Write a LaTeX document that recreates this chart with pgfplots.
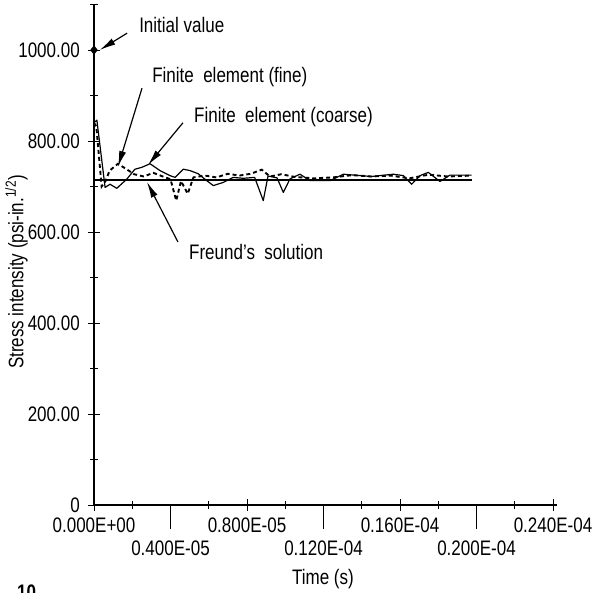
\documentclass[border=0pt]{standalone}
\usepackage{pgfplots}
\pgfplotsset{compat=1.18}
\usepackage{fontspec}
\setmainfont{Liberation Sans}[FakeStretch=0.81]
\usetikzlibrary{arrows.meta}
\begin{document}
\fontsize{21bp}{25bp}\selectfont
\begin{tikzpicture}
\path[use as bounding box] (-94bp,-88bp) rectangle (499bp,505bp);
\begin{axis}[
 anchor=origin, at={(0,0)},
 x=19.125bp, y=0.455bp,
 xmin=0, xmax=24.2, ymin=0, ymax=1100,
 clip=false,
 axis x line*=bottom, axis y line*=left,
 axis line style={line width=1.2pt,-},
 xtick={0,8,16,24},
 xticklabels={0.000E+00,0.800E-05,0.160E-04,0.240E-04},
 extra x ticks={4,12,20},
 extra x tick labels={0.400E-05,0.120E-04,0.200E-04},
 extra x tick style={tick align=outside, major tick length=24bp, xticklabel style={yshift=-5bp}},
 minor xtick={2,6,10,14,18,22},
 ytick={0,200,...,1000},
 yticklabels={0,200.00,400.00,600.00,800.00,1000.00},
 minor ytick={100,300,500,700,900,1100},
 tick align=center, major tick length=12bp, minor tick length=8bp,
 tick style={line width=1pt,black},
 tick label style={font=\fontsize{21bp}{25bp}\selectfont},
 yticklabel style={xshift=-1bp},
]
% Freund's solution
\addplot[black, line width=2pt] coordinates {(0,715) (19.75,715)};
% Finite element (coarse)
\addplot[black, line width=1.2pt, line join=round] coordinates {
(0,840) (0.15,846) (0.58,698) (0.84,705) (1.19,696) (1.71,716) (2.14,738)
(2.49,742) (2.93,750) (3.45,735) (3.97,724) (4.24,720) (4.67,738) (5.02,735)
(5.45,728) (5.89,713) (6.24,702) (6.76,709) (7.28,720) (7.8,718) (8.4,720)
(8.85,669) (9.1,723) (9.57,719) (9.9,687) (10.25,717) (10.77,727) (11.29,713)
(12.34,713) (13.04,727) (14.5,722) (15.65,727) (16.17,724) (16.61,705)
(17.05,724) (17.48,731) (18.09,711) (18.61,725) (19.75,725)};
% Finite element (fine)
\addplot[black, line width=1.9pt, dash pattern=on 4pt off 3pt] coordinates {
(0,840) (0.12,832) (0.4,700) (0.6,712) (0.82,735) (1.25,750) (1.7,738)
(2.1,727) (2.6,722) (3.1,730) (3.6,722) (4.0,716) (4.3,669) (4.55,712)
(4.9,684) (5.2,720) (5.8,724) (6.4,720) (7.0,728) (7.6,724) (8.2,728)
(8.77,737) (9.2,722) (9.8,727) (10.5,721) (11.5,718) (12.5,720) (13.5,725)
(14.5,722) (15.5,724) (16.5,718) (17.5,726) (18.5,722) (19.75,724)};
% Initial value
\addplot[only marks, mark=diamond*, mark size=4.5bp, black] coordinates {(0,1000)};
% annotations
\tikzset{ann/.style={line width=1.2pt, -{Latex[length=16bp,width=7bp]}}}
\draw[ann] (axis cs:1.73,1037) -- (axis cs:0.3,1000);
\node[anchor=west] at (axis cs:1.99,1055) {Initial value};
\draw[ann] (axis cs:2.51,916) -- (axis cs:1.25,743);
\node[anchor=west] at (axis cs:2.67,941) {Finite\ \ element (fine)};
\draw[ann] (axis cs:4.65,840) -- (axis cs:2.82,747);
\node[anchor=west] at (axis cs:4.86,853) {Finite\ \ element (coarse)};
\draw[ann] (axis cs:4.39,578) -- (axis cs:2.77,710);
\node[anchor=west] at (axis cs:4.6,556) {Freund's\ \ solution};
\node[rotate=90] at (axis cs:-4.05,512) {Stress intensity (psi-in.\textsuperscript{1/2})};
\node at (axis cs:11.97,-163) {Time (s)};
\end{axis}
\node[anchor=north west, inner sep=0pt, font=\bfseries] at (-77bp,-80bp) {10};
\end{tikzpicture}
\end{document}
